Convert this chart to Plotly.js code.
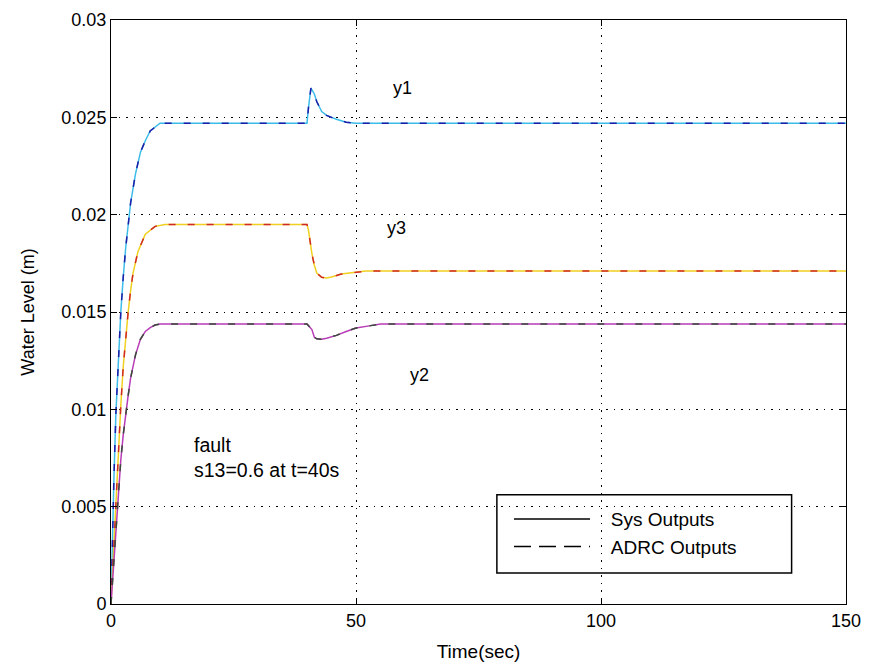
<!DOCTYPE html>
<html>
<head>
<meta charset="utf-8">
<script src="https://cdn.plot.ly/plotly-3.0.1.min.js"></script>
<style>html,body{margin:0;padding:0;background:#fff;}#chart{width:872px;height:668px;}</style>
</head>
<body>
<div id="chart"></div>
<script>
// Time (sec) samples
const tY1 = [0, 0.3, 0.6, 1, 1.5, 2, 2.5, 3, 4, 5, 6, 7, 8, 9, 10, 11, 40, 40.3, 40.8, 41.5, 42, 43, 44, 45, 46, 48, 50, 55, 150];
const y1  = [0, 0.0035, 0.0065, 0.0098, 0.0128, 0.0150, 0.0168, 0.0183, 0.0206, 0.0221, 0.0232, 0.0238, 0.0243, 0.0245, 0.0247, 0.0247, 0.0247, 0.0255, 0.0265, 0.0262, 0.0258, 0.0253, 0.0251, 0.0250, 0.0249, 0.02475, 0.0247, 0.0247, 0.0247];

const tY3 = [0, 0.5, 1, 1.5, 2, 2.5, 3, 3.5, 4, 4.5, 5.5, 7, 9, 11, 40, 40.3, 41, 41.5, 42, 43, 44, 45, 47, 50, 52, 150];
const y3  = [0, 0.0025, 0.0055, 0.0080, 0.0102, 0.0122, 0.0137, 0.0150, 0.0161, 0.0170, 0.0181, 0.0190, 0.0194, 0.0195, 0.0195, 0.0192, 0.0180, 0.0174, 0.0170, 0.01678, 0.01675, 0.0168, 0.01695, 0.01705, 0.0171, 0.0171];

const tY2 = [0, 0.5, 1, 1.5, 2, 2.5, 3, 3.5, 4, 5, 6, 7, 8, 9, 10, 40, 41, 41.5, 42, 43, 44, 46, 48, 50, 53, 55, 150];
const y2  = [0, 0.0020, 0.0040, 0.0058, 0.0074, 0.0087, 0.0098, 0.0107, 0.0116, 0.0128, 0.0136, 0.0140, 0.0142, 0.01433, 0.01438, 0.01438, 0.0141, 0.0137, 0.01362, 0.0136, 0.01365, 0.0138, 0.0140, 0.01418, 0.0143, 0.01438, 0.01438];

const xTicks = [0, 50, 100, 150];
const yTicks = [0, 0.005, 0.01, 0.015, 0.02, 0.025, 0.03];
const yTickText = ["0", "0.005", "0.01", "0.015", "0.02", "0.025", "0.03"];
const legendNames = ["Sys Outputs", "ADRC Outputs"];

const FONT = "Liberation Sans, Arial, sans-serif";
const LW = 1.5;
const DASH = "7px,12px";
const PAD = "\u00a0\u00a0\u00a0";

const traces = [
  {x: tY1, y: y1, mode: "lines", line: {color: "#3cbce8", width: LW}, showlegend: false, hoverinfo: "skip"},
  {x: tY3, y: y3, mode: "lines", line: {color: "#f0d020", width: LW}, showlegend: false, hoverinfo: "skip"},
  {x: tY2, y: y2, mode: "lines", line: {color: "#b83cb8", width: LW}, showlegend: false, hoverinfo: "skip"},
  {x: tY1, y: y1, mode: "lines", line: {color: "#1c1ca8", width: LW, dash: DASH}, showlegend: false, hoverinfo: "skip"},
  {x: tY3, y: y3, mode: "lines", line: {color: "#d02828", width: LW, dash: DASH}, showlegend: false, hoverinfo: "skip"},
  {x: tY2, y: y2, mode: "lines", line: {color: "#3a4a3a", width: LW, dash: DASH}, showlegend: false, hoverinfo: "skip"},
  {x: [null], y: [null], mode: "lines", name: PAD + legendNames[0], line: {color: "#000", width: 1.5}},
  {x: [null], y: [null], mode: "lines", name: PAD + legendNames[1], line: {color: "#000", width: 1.5, dash: "17px,8px"}}
];

const axisCommon = {
  showline: true, linecolor: "#000", linewidth: 1, mirror: "ticks",
  ticks: "inside", ticklen: 6, tickcolor: "#000",
  showgrid: true, gridcolor: "#000", gridwidth: 1, griddash: "1.5px,6px",
  zeroline: false,
  tickfont: {family: FONT, size: 18, color: "#000"}
};

const layout = {
  width: 872, height: 668,
  margin: {l: 111, r: 26, t: 20, b: 64},
  paper_bgcolor: "#fff", plot_bgcolor: "#fff",
  xaxis: Object.assign({}, axisCommon, {
    range: [0, 150], tickvals: xTicks, ticktext: xTicks.map(String),
    title: {text: "Time(sec)", font: {family: FONT, size: 19, color: "#000"}, standoff: 15}
  }),
  yaxis: Object.assign({}, axisCommon, {
    range: [0, 0.03], tickvals: yTicks, ticktext: yTickText,
    title: {text: "Water Level (m)", font: {family: FONT, size: 18, color: "#000"}, standoff: 22}
  }),
  showlegend: true,
  legend: {
    x: 0.5415, y: 0.178, xanchor: "left", yanchor: "top",
    bgcolor: "rgba(0,0,0,0)", borderwidth: 0,
    font: {family: FONT, size: 19, color: "#000"},
    itemwidth: 76, tracegroupgap: 0
  },
  shapes: [
    {type: "rect", xref: "paper", yref: "paper", x0: 0.525, x1: 0.926, y0: 0.053, y1: 0.187,
     line: {color: "#000", width: 1.5}, fillcolor: "rgba(0,0,0,0)", layer: "above"}
  ],
  annotations: [
    {x: 59.4, y: 0.0265, text: "y1", showarrow: false, font: {family: FONT, size: 18, color: "#000"}},
    {x: 58.2, y: 0.0193, text: "y3", showarrow: false, font: {family: FONT, size: 18, color: "#000"}},
    {x: 62.9, y: 0.01176, text: "y2", showarrow: false, font: {family: FONT, size: 18, color: "#000"}},
    {x: 16.5, y: 0.00755, xanchor: "left", align: "left", text: "fault<br>s13=0.6 at t=40s", showarrow: false,
     font: {family: FONT, size: 19.5, color: "#000"}}
  ]
};

Plotly.newPlot("chart", traces, layout, {displayModeBar: false, staticPlot: true});
</script>
</body>
</html>
